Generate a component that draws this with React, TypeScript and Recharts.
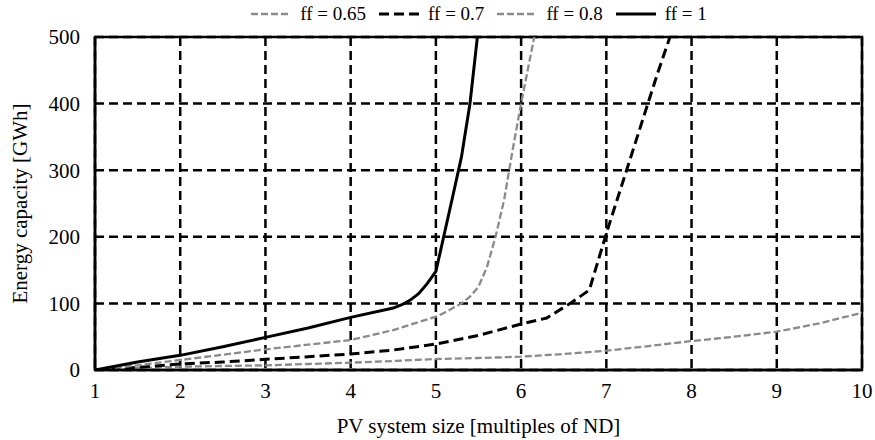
import React from "react";
import {
  LineChart,
  Line,
  XAxis,
  YAxis,
  CartesianGrid,
  ReferenceArea,
} from "recharts";

// PV size in multiples of ND, energy capacity in GWh
const ff065X = [1, 1.5, 2, 2.5, 3, 3.5, 4, 4.5, 5, 5.5, 6, 6.5, 7, 7.5, 8, 8.5, 9, 9.5, 10];
const ff065Y = [0, 3, 5, 6, 7, 9, 11, 13.5, 16.5, 18, 20, 24, 29, 36, 43.5, 50, 57.5, 70, 86];

const ff07X = [1, 1.5, 2, 2.5, 3, 3.5, 4, 4.5, 5, 5.5, 6, 6.3, 6.6, 6.8, 7, 7.2, 7.4, 7.6, 7.8];
const ff07Y = [0, 4, 9, 12, 16, 20, 24, 30, 39, 52, 69, 78, 102, 120, 205, 285, 365, 445, 520];

const ff08X = [1, 1.5, 2, 2.5, 3, 3.5, 4, 4.5, 5, 5.1, 5.2, 5.3, 5.4, 5.5, 5.6, 5.7, 5.8, 5.9, 6, 6.1, 6.2];
const ff08Y = [0, 7, 15, 23, 31, 38, 45, 60, 80, 86, 93, 100, 110, 125, 155, 200, 255, 330, 400, 465, 530];

const ff1X = [1, 1.5, 2, 2.5, 3, 3.5, 4, 4.5, 4.6, 4.7, 4.8, 4.9, 5, 5.1, 5.2, 5.3, 5.4, 5.5];
const ff1Y = [0, 12, 22, 35, 49, 63, 79, 93, 98, 105, 115, 130, 148, 205, 262, 320, 400, 515];

const xTicks = [1, 2, 3, 4, 5, 6, 7, 8, 9, 10];
const yTicks = [0, 100, 200, 300, 400, 500];

const toPoints = (xs: number[], ys: number[]) => xs.map((x, i) => ({ x, y: ys[i] }));

const FONT = "Liberation Serif, DejaVu Serif, Times New Roman, serif";
const GRAY = "#8a8a8a";

const series = [
  { name: "ff = 0.65", data: toPoints(ff065X, ff065Y), stroke: GRAY, dash: "7 3", width: 2.3 },
  { name: "ff = 0.7", data: toPoints(ff07X, ff07Y), stroke: "#000", dash: "10 5", width: 3 },
  { name: "ff = 0.8", data: toPoints(ff08X, ff08Y), stroke: GRAY, dash: "7 3", width: 2.3 },
  { name: "ff = 1", data: toPoints(ff1X, ff1Y), stroke: "#000", dash: undefined, width: 3 },
];

const LegendRow = () => (
  <div
    style={{
      position: "absolute",
      top: 3,
      left: 95,
      width: 767,
      display: "flex",
      justifyContent: "center",
      alignItems: "center",
      fontFamily: FONT,
      fontSize: 19,
      color: "#000",
    }}
  >
    {series.map((s) => (
      <div key={s.name} style={{ display: "flex", alignItems: "center", margin: "0 6px" }}>
        <svg width={42} height={20}>
          <line
            x1={1}
            y1={10}
            x2={41}
            y2={10}
            stroke={s.stroke}
            strokeWidth={s.width}
            strokeDasharray={s.dash}
          />
        </svg>
        <span style={{ marginLeft: 8, whiteSpace: "pre" }}>{s.name}</span>
      </div>
    ))}
  </div>
);

export default function App() {
  return (
    <div style={{ position: "fixed", left: 0, top: 0, width: 875, height: 440, background: "#fff", fontFamily: FONT }}>
      <LineChart
        width={875}
        height={440}
        margin={{ top: 37, right: 13, bottom: 0, left: 0 }}
        style={{ fontFamily: FONT }}
      >
        <CartesianGrid
          stroke="#000"
          strokeWidth={2.5}
          strokeDasharray="9 5"
          horizontalValues={yTicks}
          verticalValues={xTicks}
        />
        <XAxis
          type="number"
          dataKey="x"
          domain={[1, 10]}
          ticks={xTicks}
          allowDataOverflow
          height={70}
          axisLine={{ stroke: "#000", strokeWidth: 2.5 }}
          tickLine={false}
          tickMargin={7}
          tick={{ fill: "#000", fontFamily: FONT, fontSize: 21 }}
          label={{
            value: "PV system size [multiples of ND]",
            position: "insideBottom",
            offset: 7,
            fill: "#000",
            fontFamily: FONT,
            fontSize: 21,
          }}
        />
        <YAxis
          type="number"
          dataKey="y"
          width={95}
          domain={[0, 500]}
          ticks={yTicks}
          allowDataOverflow
          axisLine={{ stroke: "#000", strokeWidth: 2.5 }}
          tickLine={false}
          tickMargin={9}
          tick={{ fill: "#000", fontFamily: FONT, fontSize: 21 }}
          label={{
            value: "Energy capacity [GWh]",
            angle: -90,
            position: "insideLeft",
            offset: 20,
            style: { textAnchor: "middle" },
            fill: "#000",
            fontFamily: FONT,
            fontSize: 21,
          }}
        />
        {series.map((s) => (
          <Line
            key={s.name}
            data={s.data}
            dataKey="y"
            name={s.name}
            type="linear"
            stroke={s.stroke}
            strokeWidth={s.width}
            strokeDasharray={s.dash}
            dot={false}
            activeDot={false}
            isAnimationActive={false}
          />
        ))}
        <ReferenceArea
          x1={1}
          x2={10}
          y1={0}
          y2={500}
          fill="none"
          stroke="#000"
          strokeWidth={2.5}
        />
      </LineChart>
      <LegendRow />
    </div>
  );
}
